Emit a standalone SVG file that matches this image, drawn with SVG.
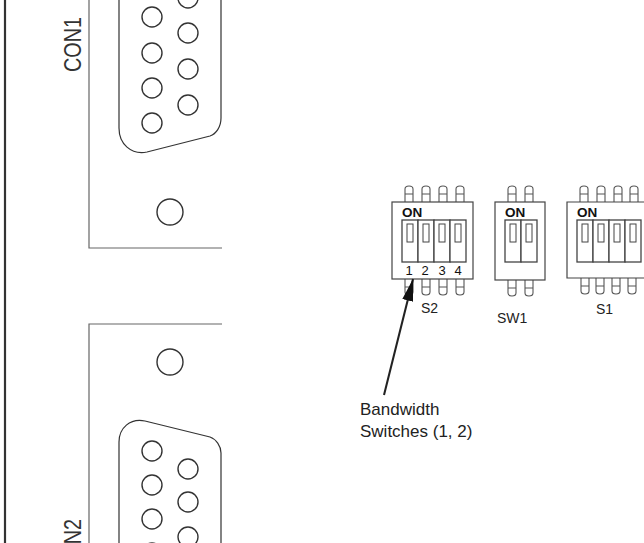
<svg xmlns="http://www.w3.org/2000/svg" width="644" height="543" viewBox="0 0 644 543">
<defs>
<style>
.edge{stroke:#333;stroke-width:2.2;fill:none}
.box{stroke:#666;stroke-width:1.2;fill:none}
.dsub{stroke:#333;stroke-width:1.2;fill:none}
.pin{stroke:#333;stroke-width:1.4;fill:#fff}
.body{stroke:#444;stroke-width:1.2;fill:#fff}
.slot{stroke:#444;stroke-width:1.3;fill:#fff}
.knob{stroke:#444;stroke-width:1;fill:#fff}
.leg{stroke:#555;stroke-width:1.1;fill:none}
.lbl{font-family:"Liberation Sans",Arial,sans-serif;font-size:14px;fill:#222}
.on{font-family:"Liberation Sans",Arial,sans-serif;font-weight:bold;font-size:13.5px;fill:#111}
.num{font-family:"Liberation Sans",Arial,sans-serif;font-size:13px;fill:#111;text-anchor:middle}
.con{font-family:"Liberation Sans",Arial,sans-serif;font-size:24px;fill:#333}
.note{font-family:"Liberation Sans",Arial,sans-serif;font-size:17px;fill:#222}
</style>
<marker id="ah" markerUnits="userSpaceOnUse" markerWidth="24" markerHeight="12" refX="22" refY="6" orient="auto">
<path d="M0,0.5 L22,6 L0,11.5 Z" fill="#111"/>
</marker>
<path id="tpin" d="M-4,16 V3 Q-4,0 0,0 Q4,0 4,3 V16 M-4,8 H4" class="leg"/>
<path id="bpin" d="M-4,0 V13 Q-4,16 0,16 Q4,16 4,13 V0 M-4,8 H4" class="leg"/>
<g id="slotshape"><rect x="0" y="0" width="16" height="42" class="slot"/><rect x="5" y="4" width="6" height="18" class="knob"/></g>
</defs>
<rect width="644" height="543" fill="#fff"/>
<line x1="5" y1="0" x2="5" y2="543" class="edge"/>

<g id="CON1">
<path d="M89,0 V248 H222" class="box"/>
<path d="M119,0 V128 C119,144 131,155 147,152 L210,136 C216,134 221,127 221,118 V0" class="dsub"/>
<circle cx="152" cy="17" r="10" class="pin"/>
<circle cx="152" cy="53" r="10" class="pin"/>
<circle cx="152" cy="88" r="10" class="pin"/>
<circle cx="152" cy="123" r="10" class="pin"/>
<circle cx="188" cy="-2" r="10" class="pin"/>
<circle cx="188" cy="33" r="10" class="pin"/>
<circle cx="188" cy="69" r="10" class="pin"/>
<circle cx="188" cy="105" r="10" class="pin"/>
<circle cx="170" cy="212" r="13" class="pin"/>
<text class="con" transform="translate(81,72) rotate(-90)" textLength="55" lengthAdjust="spacingAndGlyphs">CON1</text>
</g>

<g id="CON2">
<path d="M89,543 V324 H222" class="box"/>
<path d="M119,543 V442 C119,428 130,418 145,421 L210,437 C216,439 221,446 221,453 V543" class="dsub"/>
<circle cx="152" cy="451" r="10" class="pin"/>
<circle cx="152" cy="485" r="10" class="pin"/>
<circle cx="152" cy="519" r="10" class="pin"/>
<circle cx="152" cy="553" r="10" class="pin"/>
<circle cx="188" cy="469" r="10" class="pin"/>
<circle cx="188" cy="502" r="10" class="pin"/>
<circle cx="188" cy="537" r="10" class="pin"/>
<circle cx="170" cy="362" r="13" class="pin"/>
<text class="con" transform="translate(81,519) rotate(-90)" text-anchor="end" textLength="55" lengthAdjust="spacingAndGlyphs">CON2</text>
</g>

<g id="S2">
<use href="#tpin" x="409" y="186"/><use href="#tpin" x="426" y="186"/><use href="#tpin" x="443" y="186"/><use href="#tpin" x="460" y="186"/>
<use href="#bpin" x="409" y="279"/><use href="#bpin" x="426" y="279"/><use href="#bpin" x="443" y="279"/><use href="#bpin" x="460" y="279"/>
<rect x="392" y="202" width="81" height="77" class="body"/>
<text class="on" x="402" y="217">ON</text>
<use href="#slotshape" x="402" y="220"/><use href="#slotshape" x="418" y="220"/><use href="#slotshape" x="434" y="220"/><use href="#slotshape" x="450" y="220"/>
<text class="num" x="409" y="275">1</text><text class="num" x="425" y="275">2</text><text class="num" x="442" y="275">3</text><text class="num" x="458" y="275">4</text>
<text class="lbl" x="421" y="313">S2</text>
</g>

<g id="SW1">
<use href="#tpin" x="512" y="186"/><use href="#tpin" x="529" y="186"/>
<use href="#bpin" x="512" y="280"/><use href="#bpin" x="529" y="280"/>
<rect x="495" y="202" width="50" height="78" class="body"/>
<text class="on" x="505" y="217">ON</text>
<use href="#slotshape" x="505" y="220"/><use href="#slotshape" x="521" y="220"/>
<text class="lbl" x="497" y="323">SW1</text>
</g>

<g id="S1">
<use href="#tpin" x="584" y="186"/><use href="#tpin" x="601" y="186"/><use href="#tpin" x="618" y="186"/><use href="#tpin" x="634" y="186"/>
<use href="#bpin" x="585" y="278"/><use href="#bpin" x="600" y="278"/><use href="#bpin" x="616" y="278"/><use href="#bpin" x="632" y="278"/>
<path d="M646,202 H567 V278 H646" class="body"/>
<text class="on" x="577" y="217">ON</text>
<use href="#slotshape" x="577" y="220"/><use href="#slotshape" x="593" y="220"/><use href="#slotshape" x="609" y="220"/><use href="#slotshape" x="625" y="220"/>
<text class="lbl" x="596" y="314">S1</text>
</g>

<g id="note">
<text class="note" x="360" y="415">Bandwidth</text>
<text class="note" x="360" y="437">Switches (1, 2)</text>
</g>

<g id="connectors">
<line x1="384" y1="395" x2="413" y2="279" stroke="#222" stroke-width="2" marker-end="url(#ah)"/>
</g>
</svg>
